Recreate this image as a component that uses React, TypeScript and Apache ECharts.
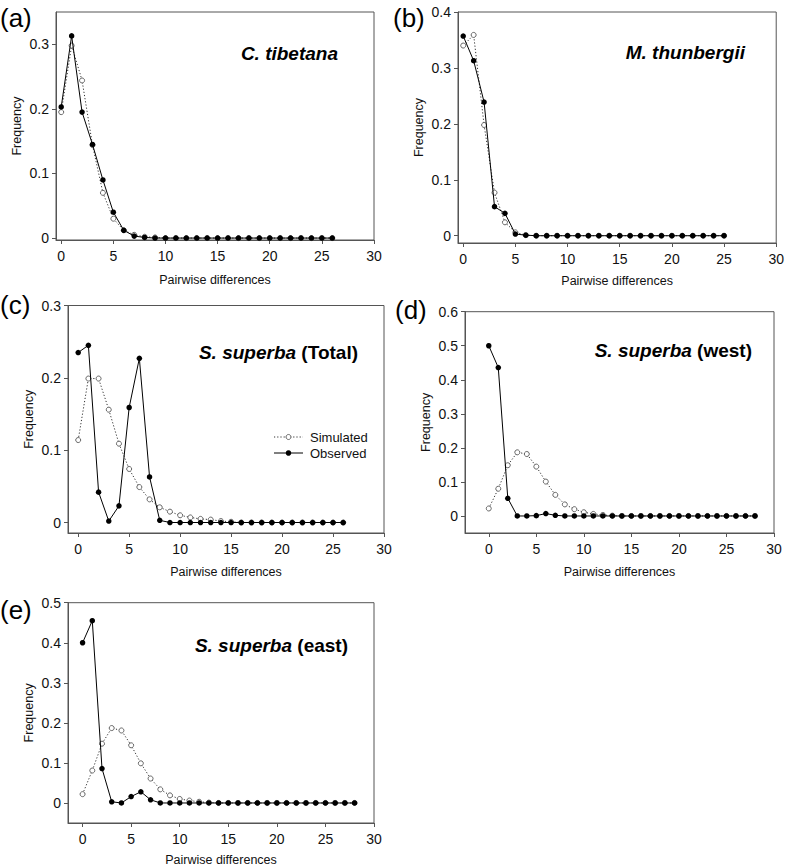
import React, { useEffect, useRef } from "react";
import * as echarts from "echarts";

const X_TICKS = [0, 5, 10, 15, 20, 25, 30];

// (a) C. tibetana
const CT_SIM = [0.195, 0.298, 0.244, 0.144, 0.07, 0.03, 0.012, 0.005, 0.002, 0.001, 0, 0, 0, 0, 0, 0, 0, 0, 0, 0, 0, 0, 0, 0, 0, 0, 0];
const CT_OBS = [0.203, 0.313, 0.195, 0.145, 0.09, 0.04, 0.012, 0.003, 0.001, 0, 0, 0, 0, 0, 0, 0, 0, 0, 0, 0, 0, 0, 0, 0, 0, 0, 0];
const CT_YTICKS = [0, 0.1, 0.2, 0.3];

// (b) M. thunbergii
const MT_SIM = [0.34, 0.359, 0.198, 0.077, 0.024, 0.006, 0.001, 0, 0, 0, 0, 0, 0, 0, 0, 0, 0, 0, 0, 0, 0, 0, 0, 0, 0, 0];
const MT_OBS = [0.357, 0.313, 0.239, 0.052, 0.04, 0.003, 0.001, 0, 0, 0, 0, 0, 0, 0, 0, 0, 0, 0, 0, 0, 0, 0, 0, 0, 0, 0];
const MT_YTICKS = [0, 0.1, 0.2, 0.3, 0.4];

// (c) S. superba (Total)
const SST_SIM = [0.114, 0.199, 0.199, 0.156, 0.109, 0.074, 0.049, 0.032, 0.021, 0.015, 0.01, 0.007, 0.005, 0.004, 0.002, 0.001, 0, 0, 0, 0, 0, 0, 0, 0, 0, 0, 0];
const SST_OBS = [0.235, 0.245, 0.042, 0.002, 0.023, 0.159, 0.227, 0.063, 0.003, 0, 0, 0, 0, 0, 0, 0, 0, 0, 0, 0, 0, 0, 0, 0, 0, 0, 0];
const SST_YTICKS = [0, 0.1, 0.2, 0.3];

// (d) S. superba (west)
const SSW_SIM = [0.022, 0.08, 0.149, 0.187, 0.182, 0.145, 0.101, 0.062, 0.034, 0.02, 0.011, 0.006, 0.003, 0.001, 0, 0, 0, 0, 0, 0, 0, 0, 0, 0, 0, 0, 0, 0, 0];
const SSW_OBS = [0.5, 0.436, 0.052, 0, 0, 0.001, 0.007, 0.002, 0, 0, 0, 0, 0, 0, 0, 0, 0, 0, 0, 0, 0, 0, 0, 0, 0, 0, 0, 0, 0];
const SSW_YTICKS = [0, 0.1, 0.2, 0.3, 0.4, 0.5, 0.6];

// (e) S. superba (east)
const SSE_SIM = [0.022, 0.081, 0.148, 0.187, 0.181, 0.144, 0.099, 0.061, 0.034, 0.019, 0.01, 0.006, 0.003, 0.001, 0, 0, 0, 0, 0, 0, 0, 0, 0, 0, 0, 0, 0, 0, 0];
const SSE_OBS = [0.4, 0.455, 0.086, 0.003, 0, 0.016, 0.028, 0.008, 0, 0, 0, 0, 0, 0, 0, 0, 0, 0, 0, 0, 0, 0, 0, 0, 0, 0, 0, 0, 0];
const SSE_YTICKS = [0, 0.1, 0.2, 0.3, 0.4, 0.5];

const X_NAME = "Pairwise differences";
const Y_NAME = "Frequency";
const LEGEND_NAMES = ["Simulated", "Observed"];

const FONT = "'Liberation Sans', Arial, Helvetica, sans-serif";
const AXIS_COLOR = "#555";
const TEXT_COLOR = "#111";

type Panel = {
  tag: string;
  tagPos: [number, number];
  species: string;
  suffix: string;
  titlePos: [number, number];
  grid: { left: number; top: number; width: number; height: number };
  xMin: number;
  yMin: number;
  yMax: number;
  yTicks: number[];
  sim: number[];
  obs: number[];
  xNameGap: number;
};

const PANELS: Panel[] = [
  {
    tag: "(a)", tagPos: [0, 18], species: "C. tibetana", suffix: "", titlePos: [338, 53],
    grid: { left: 56, top: 12, width: 318, height: 228 },
    xMin: -0.5, yMin: -0.003, yMax: 0.35, yTicks: CT_YTICKS, sim: CT_SIM, obs: CT_OBS, xNameGap: 33,
  },
  {
    tag: "(b)", tagPos: [393, 18], species: "M. thunbergii", suffix: "", titlePos: [745, 52],
    grid: { left: 458, top: 12, width: 319, height: 231 },
    xMin: -0.5, yMin: -0.013, yMax: 0.4, yTicks: MT_YTICKS, sim: MT_SIM, obs: MT_OBS, xNameGap: 31,
  },
  {
    tag: "(c)", tagPos: [0, 305], species: "S. superba", suffix: " (Total)", titlePos: [358, 352],
    grid: { left: 68, top: 305.5, width: 316, height: 227.5 },
    xMin: -1, yMin: -0.0145, yMax: 0.3, yTicks: SST_YTICKS, sim: SST_SIM, obs: SST_OBS, xNameGap: 32,
  },
  {
    tag: "(d)", tagPos: [395, 310], species: "S. superba", suffix: " (west)", titlePos: [752, 350],
    grid: { left: 465, top: 311.7, width: 309, height: 221.3 },
    xMin: -2.5, yMin: -0.05, yMax: 0.6, yTicks: SSW_YTICKS, sim: SSW_SIM, obs: SSW_OBS, xNameGap: 32,
  },
  {
    tag: "(e)", tagPos: [0, 610], species: "S. superba", suffix: " (east)", titlePos: [348, 645],
    grid: { left: 68, top: 602.7, width: 306, height: 221.3 },
    xMin: -1.5, yMin: -0.05, yMax: 0.5, yTicks: SSE_YTICKS, sim: SSE_SIM, obs: SSE_OBS, xNameGap: 30,
  },
];

const toPairs = (arr: number[]) => arr.map((v, i) => [i, v]);

function buildOption() {
  const grids: any[] = [];
  const xAxes: any[] = [];
  const yAxes: any[] = [];
  const series: any[] = [];
  const graphics: any[] = [];

  PANELS.forEach((p, i) => {
    grids.push({
      ...p.grid,
      show: true,
      borderColor: AXIS_COLOR,
      borderWidth: 1,
      backgroundColor: "transparent",
      containLabel: false,
    });
    xAxes.push({
      type: "value",
      gridIndex: i,
      min: p.xMin,
      max: 30,
      name: X_NAME,
      nameLocation: "middle",
      nameGap: p.xNameGap,
      nameTextStyle: { fontFamily: FONT, fontSize: 12.5, color: TEXT_COLOR },
      axisLine: { show: true, onZero: false, lineStyle: { color: AXIS_COLOR, width: 1 } },
      axisTick: { show: true, inside: false, length: 4, customValues: X_TICKS, lineStyle: { color: AXIS_COLOR } },
      axisLabel: {
        customValues: X_TICKS,
        margin: 9,
        fontFamily: FONT,
        fontSize: 14,
        color: TEXT_COLOR,
        formatter: (v: number) => String(Math.round(v)),
      },
      splitLine: { show: false },
    });
    yAxes.push({
      type: "value",
      gridIndex: i,
      min: p.yMin,
      max: p.yMax,
      name: Y_NAME,
      nameLocation: "middle",
      nameGap: 33,
      nameTextStyle: { fontFamily: FONT, fontSize: 12.5, color: TEXT_COLOR },
      axisLine: { show: true, onZero: false, lineStyle: { color: AXIS_COLOR, width: 1 } },
      axisTick: { show: true, inside: false, length: 4, customValues: p.yTicks, lineStyle: { color: AXIS_COLOR } },
      axisLabel: {
        customValues: p.yTicks,
        margin: 7,
        fontFamily: FONT,
        fontSize: 14,
        color: TEXT_COLOR,
        formatter: (v: number) => String(Math.round(v * 10) / 10),
      },
      splitLine: { show: false },
    });
    series.push({
      name: LEGEND_NAMES[0],
      type: "line",
      xAxisIndex: i,
      yAxisIndex: i,
      data: toPairs(p.sim),
      symbol: "circle",
      symbolSize: 5,
      showAllSymbol: true,
      lineStyle: { color: "#333", width: 1, type: [1.2, 2] },
      itemStyle: { color: "#fff", borderColor: "#555", borderWidth: 0.9 },
      z: 2,
    });
    series.push({
      name: LEGEND_NAMES[1],
      type: "line",
      xAxisIndex: i,
      yAxisIndex: i,
      data: toPairs(p.obs),
      symbol: "circle",
      symbolSize: 5.5,
      showAllSymbol: true,
      lineStyle: { color: "#000", width: 1 },
      itemStyle: { color: "#000", borderWidth: 0 },
      z: 3,
    });

    graphics.push({
      type: "text",
      x: p.tagPos[0],
      y: p.tagPos[1],
      style: {
        text: p.tag,
        font: `26px ${FONT}`,
        fill: "#000",
        align: "left",
        verticalAlign: "middle",
      },
    });
    graphics.push({
      type: "text",
      x: p.titlePos[0],
      y: p.titlePos[1],
      style: {
        text: p.suffix ? `{s|${p.species}}{n|${p.suffix}}` : `{s|${p.species}}`,
        align: "right",
        verticalAlign: "middle",
        rich: {
          s: { fontFamily: FONT, fontSize: 19, fontWeight: "bold", fontStyle: "italic", fill: "#000" },
          n: { fontFamily: FONT, fontSize: 19, fontWeight: "bold", fill: "#000" },
        },
      },
    });
  });

  // legend in panel (c)
  const lx0 = 274, lx1 = 303, lxm = 288.5, ltx = 310;
  const ly1 = 437, ly2 = 453;
  graphics.push(
    { type: "line", shape: { x1: lx0, y1: ly1, x2: lx1, y2: ly1 }, style: { stroke: "#333", lineWidth: 1, lineDash: [1.2, 2] } },
    { type: "circle", shape: { cx: lxm, cy: ly1, r: 2.5 }, style: { fill: "#fff", stroke: "#555", lineWidth: 0.9 } },
    { type: "text", x: ltx, y: ly1, style: { text: LEGEND_NAMES[0], font: `13px ${FONT}`, fill: TEXT_COLOR, align: "left", verticalAlign: "middle" } },
    { type: "line", shape: { x1: lx0, y1: ly2, x2: lx1, y2: ly2 }, style: { stroke: "#000", lineWidth: 1 } },
    { type: "circle", shape: { cx: lxm, cy: ly2, r: 2.75 }, style: { fill: "#000" } },
    { type: "text", x: ltx, y: ly2, style: { text: LEGEND_NAMES[1], font: `13px ${FONT}`, fill: TEXT_COLOR, align: "left", verticalAlign: "middle" } },
  );

  return {
    animation: false,
    backgroundColor: "#fff",
    textStyle: { fontFamily: FONT },
    grid: grids,
    xAxis: xAxes,
    yAxis: yAxes,
    series,
    graphic: graphics,
  };
}

export default function App() {
  const ref = useRef<HTMLDivElement>(null);
  useEffect(() => {
    if (!ref.current) return;
    const chart = echarts.init(ref.current, undefined, { renderer: "svg" });
    chart.setOption(buildOption());
    return () => chart.dispose();
  }, []);
  return (
    <div
      ref={ref}
      style={{ position: "absolute", left: 0, top: 0, width: 787, height: 867, background: "#fff" }}
    />
  );
}
